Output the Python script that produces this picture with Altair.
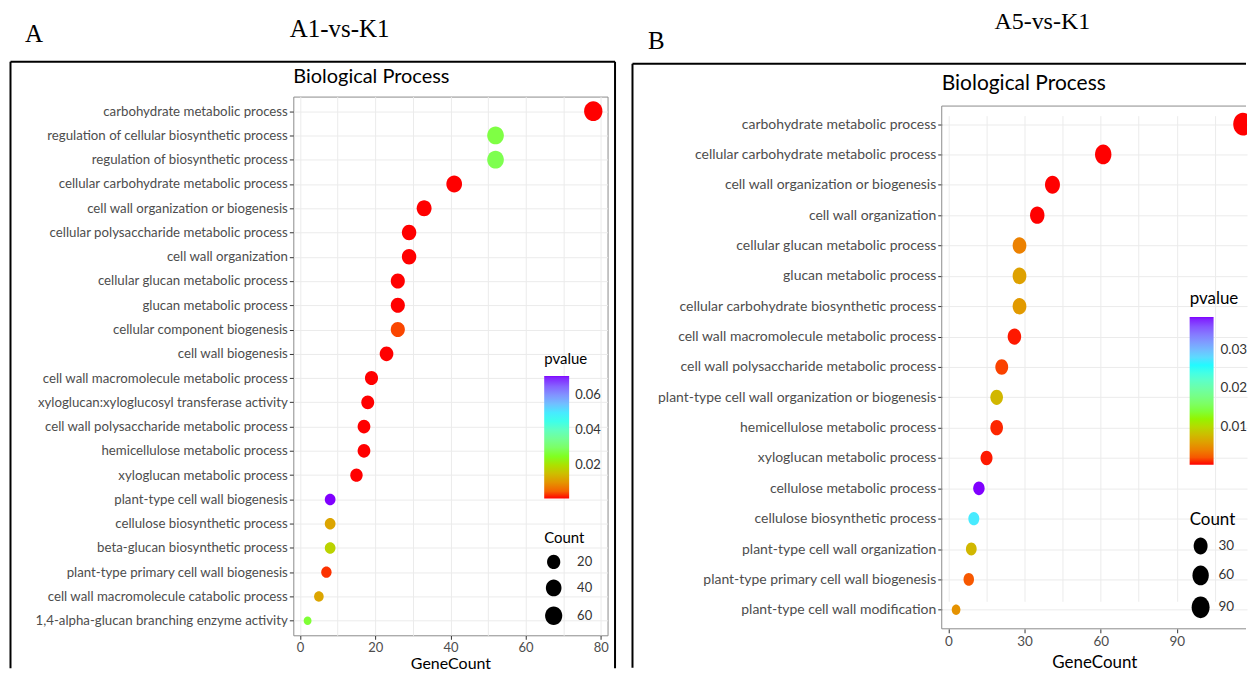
import altair as alt
import pandas as pd

# ---------------- data ----------------
a_terms = [
    "carbohydrate metabolic process",
    "regulation of cellular biosynthetic process",
    "regulation of biosynthetic process",
    "cellular carbohydrate metabolic process",
    "cell wall organization or biogenesis",
    "cellular polysaccharide metabolic process",
    "cell wall organization",
    "cellular glucan metabolic process",
    "glucan metabolic process",
    "cellular component biogenesis",
    "cell wall biogenesis",
    "cell wall macromolecule metabolic process",
    "xyloglucan:xyloglucosyl transferase activity",
    "cell wall polysaccharide metabolic process",
    "hemicellulose metabolic process",
    "xyloglucan metabolic process",
    "plant-type cell wall biogenesis",
    "cellulose biosynthetic process",
    "beta-glucan biosynthetic process",
    "plant-type primary cell wall biogenesis",
    "cell wall macromolecule catabolic process",
    "1,4-alpha-glucan branching enzyme activity",
]
a_counts = [78, 52, 52, 41, 33, 29, 29, 26, 26, 26, 23, 19, 18, 17, 17, 15, 8, 8, 8, 7, 5, 2]
a_pvalues = [0.00001, 0.027, 0.028, 0.0001, 0.0002, 0.0003, 0.0003, 0.0004, 0.0004, 0.003,
             0.0005, 0.0005, 0.0006, 0.0006, 0.0006, 0.0007, 0.071, 0.012, 0.018, 0.002,
             0.012, 0.026]

b_terms = [
    "carbohydrate metabolic process",
    "cellular carbohydrate metabolic process",
    "cell wall organization or biogenesis",
    "cell wall organization",
    "cellular glucan metabolic process",
    "glucan metabolic process",
    "cellular carbohydrate biosynthetic process",
    "cell wall macromolecule metabolic process",
    "cell wall polysaccharide metabolic process",
    "plant-type cell wall organization or biogenesis",
    "hemicellulose metabolic process",
    "xyloglucan metabolic process",
    "cellulose metabolic process",
    "cellulose biosynthetic process",
    "plant-type cell wall organization",
    "plant-type primary cell wall biogenesis",
    "plant-type cell wall modification",
]
b_counts = [116, 61, 41, 35, 28, 28, 28, 26, 21, 19, 19, 15, 12, 10, 9, 8, 3]
b_pvalues = [0.000001, 0.00001, 0.00005, 0.0001, 0.004, 0.006, 0.0055, 0.0003, 0.0012,
             0.0075, 0.0005, 0.0003, 0.0385, 0.027, 0.0075, 0.002, 0.005]

a_size_legend = [20, 40, 60]
b_size_legend = [30, 60, 90]
a_color_legend = [0.02, 0.04, 0.06]
b_color_legend = [0.01, 0.02, 0.03]

SANS = "Lato"
SERIF = "Liberation Serif"
RAINBOW = ["#FF0000", "#80FF00", "#00FFFF", "#8000FF"]
BORDER = "#8C8C8C"

one = pd.DataFrame({"k": [0]})


def vrule(x, y1, y2, color="black", w=2):
    return alt.Chart(one).mark_rule(color=color, strokeWidth=w).encode(
        x=alt.value(x), y=alt.value(y1), y2=alt.value(y2))


def hrule(y, x1, x2, color="black", w=2):
    return alt.Chart(one).mark_rule(color=color, strokeWidth=w).encode(
        y=alt.value(y), x=alt.value(x1), x2=alt.value(x2))


def label(txt, x, y, size, font, align="center"):
    return alt.Chart(one).mark_text(text=txt, font=font, fontSize=size, align=align,
                                    baseline="alphabetic", color="black").encode(
        x=alt.value(x), y=alt.value(y))


def ellipse(r):
    return f"M -{r} 0 A {r} 1 0 1 1 {r} 0 A {r} 1 0 1 1 -{r} 0 Z"


def panel(terms, counts, pvals, width, height, yscale, xdom, xstep, xmajor, xmax, sdom, srange,
          cdom, cvals, svals, shape, legx, legy_c, legy_s, grad_len, grad_th,
          lab_fs, tick_fs, title_fs, title_pad, leg_fs, rowpad, grad_off, sym_off,
          decos, view_stroke):
    df = pd.DataFrame({"term": terms, "GeneCount": counts, "pvalue": pvals, "Count": counts})
    tick_op = {"condition": {"test": f"datum.value % {xmajor} !== 0", "value": 0}, "value": 1}
    pts = alt.Chart(df).mark_point(filled=True, opacity=1, shape=shape, strokeWidth=0,
                                   clip=True).encode(
        x=alt.X("GeneCount:Q",
                scale=alt.Scale(domain=xdom, nice=False, zero=False),
                axis=alt.Axis(values=list(range(0, xmax + 1, xstep)),
                              labelExpr=f"datum.value % {xmajor} === 0 ? datum.label : ''",
                              tickOpacity=tick_op, labelOverlap=False, grid=True,
                              title="GeneCount", titleFontSize=title_fs, labelFontSize=tick_fs,
                              labelPadding=2, titlePadding=title_pad)),
        y=alt.Y("term:N", sort=terms, scale=yscale,
                axis=alt.Axis(title=None, labelFontSize=lab_fs, labelPadding=2,
                              labelLimit=400, grid=True)),
        color=alt.Color("pvalue:Q",
                        scale=alt.Scale(domain=cdom, range=RAINBOW, interpolate="lab", clamp=True),
                        legend=alt.Legend(orient="none", legendX=legx, legendY=legy_c,
                                          title="pvalue", values=cvals, format=".2f",
                                          gradientLength=grad_len, gradientThickness=grad_th,
                                          titleFontSize=leg_fs, labelFontSize=tick_fs,
                                          titlePadding=9, labelOffset=grad_off, padding=0,
                                          gradientStrokeWidth=0)),
        size=alt.Size("Count:Q",
                      scale=alt.Scale(type="sqrt", domain=sdom, range=srange, zero=False),
                      legend=alt.Legend(orient="none", legendX=legx, legendY=legy_s,
                                        title="Count", values=svals,
                                        symbolType=shape, symbolFillColor="black",
                                        symbolStrokeColor="black", symbolStrokeWidth=0,
                                        symbolOpacity=1,
                                        titleFontSize=leg_fs, labelFontSize=tick_fs,
                                        titlePadding=9, labelOffset=sym_off, padding=0,
                                        rowPadding=rowpad)),
    )
    return alt.layer(pts, *decos).properties(
        width=width, height=height,
        view=alt.ViewBackground(stroke=view_stroke, strokeWidth=1))


# panel A: plot origin at page (293.5, 95)
a_decos = [
    hrule(-86.5, -283.5, 0, color="white", w=1),
    vrule(-283.5, -35, 573), hrule(-35, -283.5, 322.5), vrule(322.5, -35, 573),
    label("A", -260, -55, 25, SERIF),
    label("A1-vs-K1", 46.5, -60, 25, SERIF),
    label("Biological Process", 0, -13.5, 20, SANS, align="left"),
]
chart_a = panel(a_terms, a_counts, a_pvalues, 315, 540,
                alt.Scale(type="point", padding=0.6),
                [-1.8, 81.8], 10, 20, 80,
                [2, 78], [72, 390], [0.0008, 0.071], a_color_legend, a_size_legend,
                ellipse(0.93), 251.5, 256, 435, 123, 25, 13.3, 13, 16, 1, 15, 10, 6, 14,
                a_decos, BORDER)

# panel B: group origin at page (942, 95); visible plot frame starts at page y 104.5;
# its right part runs off the page
b_decos = [
    hrule(-86.5, -310, 0, color="white", w=1),
    vrule(-310, -33, 572.5), hrule(-33, -310, 305),
    hrule(9.5, 0, 305, color=BORDER, w=1), vrule(0, 9.5, 533.5, color=BORDER, w=1),
    hrule(533.5, 0, 305, color=BORDER, w=1),
    label("B", -286, -48, 25, SERIF),
    label("A5-vs-K1", 100.8, -67.5, 24, SERIF),
    label("Biological Process", 0, -7, 21, SANS, align="left"),
]
chart_b = panel(b_terms, b_counts, b_pvalues, 306, 533.5,
                alt.Scale(type="point", range=[27.6, 514.4], padding=0),
                [-2.65, 117.68], 15, 30, 105,
                [3, 116], [110, 529], [0.0001, 0.0385], b_color_legend, b_size_legend,
                ellipse(0.83), 248.5, 195, 416, 148, 24, 14, 13.5, 17, 6, 17, 11, 7, 7,
                b_decos, "transparent")

chart = alt.concat(chart_a, chart_b, columns=2, spacing=14,
                   padding={"left": 1, "top": 0, "right": 0, "bottom": 0}).resolve_scale(
    color="independent", size="independent", x="independent", y="independent"
).configure_axis(
    gridColor="#EBEBEB", labelFont=SANS, titleFont=SANS, domain=False,
    tickColor="#333333", tickSize=4, labelColor="#4D4D4D", titleColor="black",
    titleFontWeight="normal"
).configure_legend(
    titleFont=SANS, labelFont=SANS, titleFontWeight="normal", titleColor="black",
    labelColor="#333333"
)

chart.save("out.html", embed_options={"renderer": "svg", "actions": False})
